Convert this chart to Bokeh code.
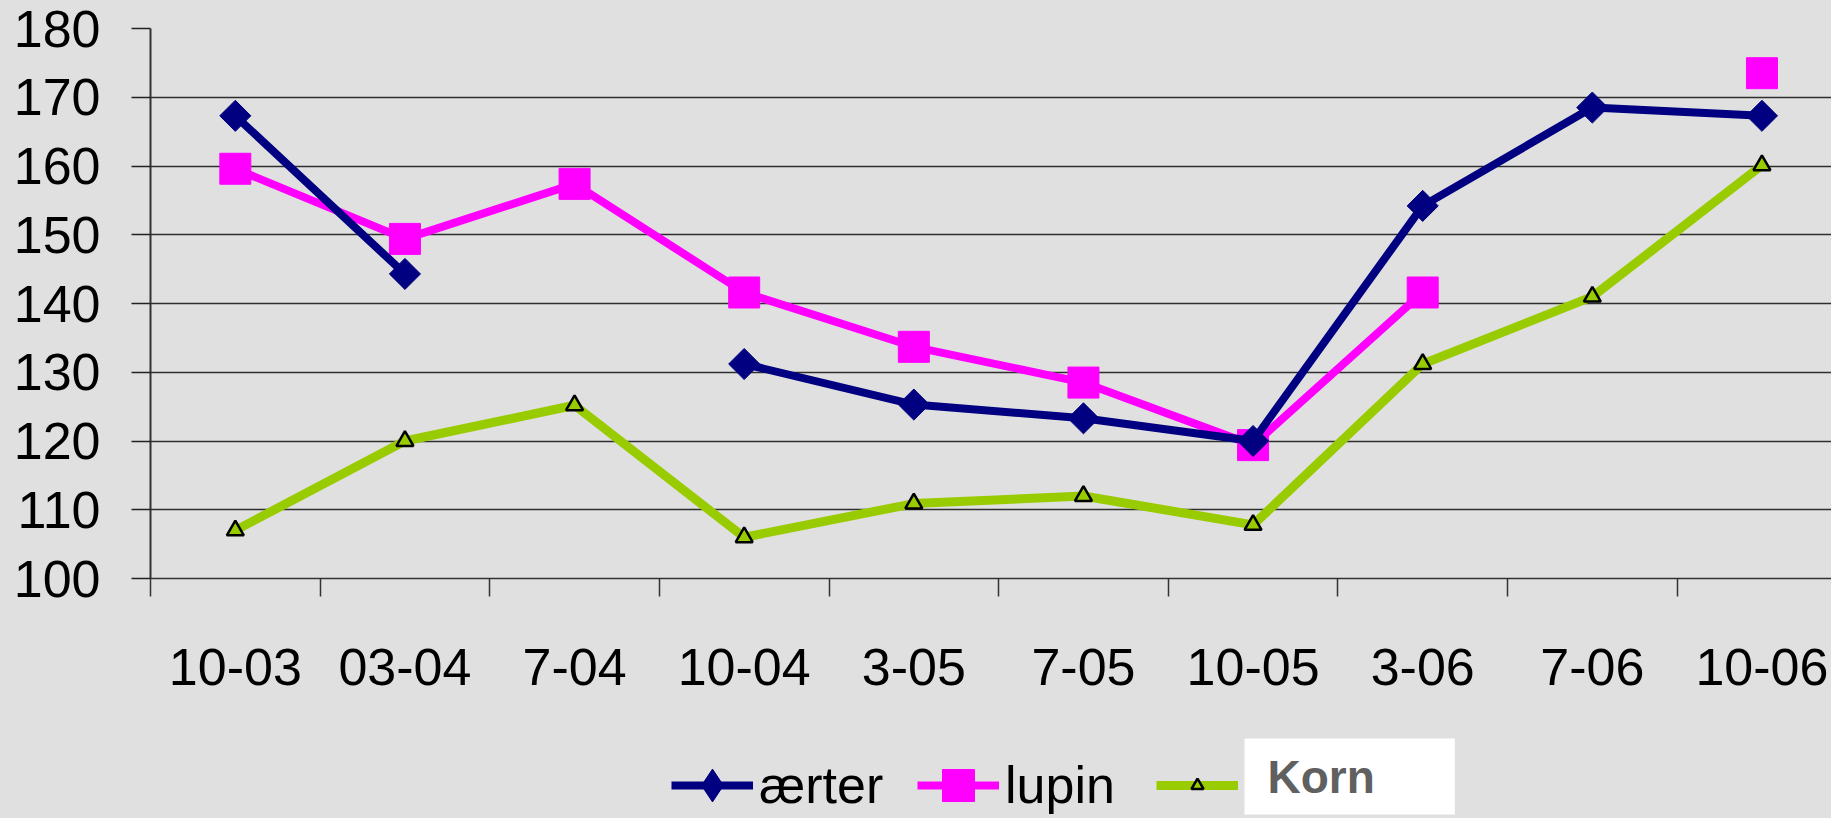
import math
import numpy as np
from bokeh.plotting import figure
from bokeh.layouts import column
from bokeh.models import Range1d, FixedTicker, Legend, LegendItem, Label
from bokeh.embed import file_html
from bokeh.resources import INLINE

# ---------------- data ----------------
categories = ["10-03", "03-04", "7-04", "10-04", "3-05", "7-05", "10-05", "3-06", "7-06", "10-06"]
aerter = [167.3, 144.3, None, 131.2, 125.3, 123.3, 120.0, 154.2, 168.5, 167.3]
lupin = [159.6, 149.4, 157.4, 141.6, 133.7, 128.5, 119.4, 141.6, None, 173.5]
korn = [107.0, 120.0, 125.2, 106.0, 110.9, 112.0, 107.8, 131.2, 141.0, 160.1]
y_ticks = [100, 110, 120, 130, 140, 150, 160, 170, 180]
series_names = ["ærter", "lupin", "Korn"]

def arr(v):
    return np.array([np.nan if a is None else a for a in v], dtype=float)

x = np.arange(len(categories))

FONT = "Liberation Sans"
BG = "#E0E0E0"
NAVY = "#000080"
MAGENTA = "#FF00FF"
GREEN = "#99CC00"

W = 1831
H_MAIN = 725
H_LEG = 93
LEFT = 150

p = figure(width=W, height=H_MAIN, output_backend="svg", toolbar_location=None,
           x_range=Range1d(-0.5, 9.41), y_range=Range1d(y_ticks[0], y_ticks[-1]),
           min_border_left=LEFT, min_border_top=28, min_border_right=0, min_border_bottom=147)
p.background_fill_color = BG
p.border_fill_color = BG
p.outline_line_color = None

# x axis: labels at category centres, tick marks at category boundaries
xa = p.xaxis[0]
xa.ticker = FixedTicker(ticks=list(x), minor_ticks=[i - 0.5 for i in range(len(categories) + 1)])
xa.major_label_overrides = {int(i): c for i, c in zip(x, categories)}
xa.major_tick_out = 0
xa.major_tick_in = 0
xa.minor_tick_out = 18
xa.minor_tick_in = 0
xa.minor_tick_line_color = "#333333"
xa.minor_tick_line_width = 1.5
xa.axis_line_color = "#333333"
xa.axis_line_width = 1.5
xa.major_label_standoff = 52
xa.major_label_text_font = FONT
xa.major_label_text_font_size = "52px"
xa.major_label_text_color = "black"

ya = p.yaxis[0]
ya.ticker = FixedTicker(ticks=y_ticks, minor_ticks=[])
ya.major_tick_out = 19
ya.major_tick_in = 0
ya.major_tick_line_color = "#222222"
ya.major_tick_line_width = 1.5
ya.axis_line_color = "#333333"
ya.axis_line_width = 2
ya.major_label_standoff = 31
ya.major_label_text_font = FONT
ya.major_label_text_font_size = "52px"
ya.major_label_text_color = "black"

p.xgrid.grid_line_color = None
p.ygrid.ticker = FixedTicker(ticks=y_ticks, minor_ticks=[])
p.ygrid.grid_line_color = "#2e2e2e"
p.ygrid.grid_line_width = 1.3

# ---------------- series ----------------
STY = {
    "lupin": dict(line=dict(line_color=MAGENTA, line_width=8),
                  mark=dict(marker="square", size=31, fill_color=MAGENTA, line_color=MAGENTA)),
    "aerter": dict(line=dict(line_color=NAVY, line_width=8),
                   mark=dict(marker="square", angle=math.pi / 4, size=22, fill_color=NAVY, line_color=NAVY)),
    "korn": dict(line=dict(line_color=GREEN, line_width=9),
                 mark=dict(marker="triangle", size=17, fill_color=GREEN, line_color="black", line_width=2.5)),
}

p.line(x, arr(lupin), **STY["lupin"]["line"])
p.scatter(x, arr(lupin), **STY["lupin"]["mark"])
p.line(x, arr(aerter), **STY["aerter"]["line"])
p.scatter(x, arr(aerter), **STY["aerter"]["mark"])
p.line(x, arr(korn), **STY["korn"]["line"])
p.scatter(x, arr(korn), **STY["korn"]["mark"])

# ---------------- legend strip ----------------
q = figure(width=W, height=H_LEG, output_backend="svg", toolbar_location=None,
           x_range=Range1d(LEFT, W), y_range=Range1d(0, H_LEG),
           x_axis_type=None, y_axis_type=None, min_border=0, min_border_left=LEFT)
q.background_fill_color = BG
q.border_fill_color = BG
q.outline_line_color = None
q.xgrid.grid_line_color = None
q.ygrid.grid_line_color = None

LEG_MARK = {
    "aerter": dict(marker="diamond", fill_color=NAVY, line_color=NAVY),
    "lupin": STY["lupin"]["mark"],
    "korn": STY["korn"]["mark"],
}

def proxy(key):
    # legend-only renderers: a single missing point, nothing drawn in the strip
    r1 = q.line([np.nan], [np.nan], **STY[key]["line"])
    r2 = q.scatter([np.nan], [np.nan], **LEG_MARK[key])
    return [r1, r2]

def make_legend(label, renderers, gh, px, vy, fs="52px"):
    lg = Legend(items=[LegendItem(label=label, renderers=renderers)],
                orientation="horizontal", location=(px - LEFT, vy),
                glyph_width=82, glyph_height=gh, label_standoff=6, spacing=0,
                padding=0, margin=0, background_fill_alpha=0, border_line_color=None,
                label_text_font=FONT, label_text_font_size=fs, label_text_color="black")
    q.add_layout(lg)
    return lg

make_legend(series_names[0], proxy("aerter"), 86, 671, -10)
make_legend(series_names[1], proxy("lupin"), 80, 917, -7)
make_legend(" ", proxy("korn"), 30, 1156, 18, fs="10px")

korn_label = Label(x=1244, y=42, text=series_names[2],
                   text_font=FONT, text_font_size="46px", text_font_style="bold",
                   text_color="#606060", text_align="left", text_baseline="middle",
                   background_fill_color="white",
                   padding=dict(left=23, right=80, top=12, bottom=12))
q.add_layout(korn_label)

layout = column(p, q, spacing=0, styles={"background-color": BG})
open("out.html", "w").write(file_html(layout, INLINE))
